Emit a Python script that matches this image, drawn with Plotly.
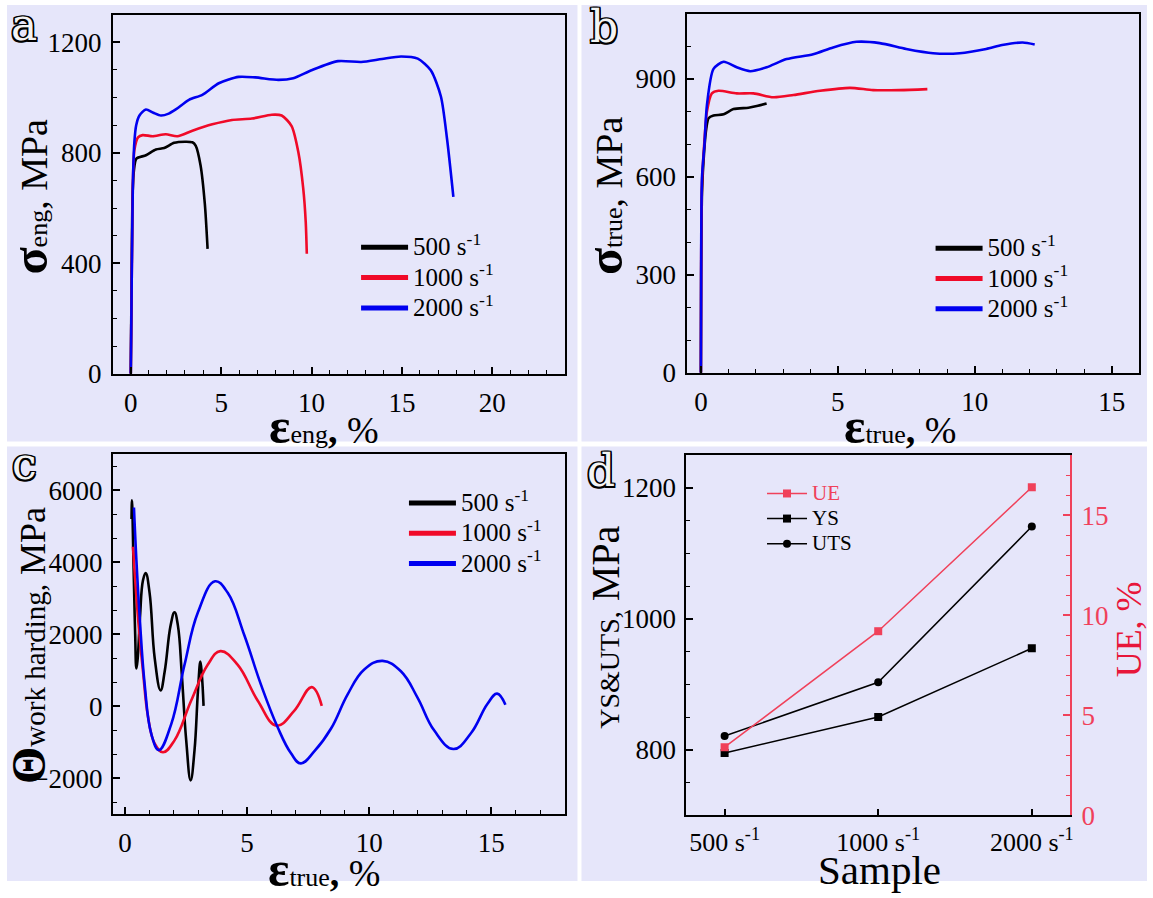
import plotly.graph_objects as go

W, H = 1153, 898
FONT = "Liberation Serif"
BG = "#E6E6FA"
BLUE = "#0000F0"
RED = "#F00A28"
BLACK = "#000000"
PINK = "#F0415A"
UE_RED = "#E8163A"

# ---------------- data ----------------
rates = ["500 s<sup>-1</sup>", "1000 s<sup>-1</sup>", "2000 s<sup>-1</sup>"]

# (a) engineering stress-strain
a500_x = [0.0, 0.02, 0.06, 0.10, 0.18, 0.31, 0.84, 1.39, 1.85, 2.40, 3.00, 3.41, 3.59, 3.86, 4.10, 4.25]
a500_y = [0, 150, 450, 650, 740, 779, 791, 812, 817, 836, 840, 838, 826, 755, 613, 452]
a1000_x = [0.0, 0.03, 0.07, 0.12, 0.20, 0.40, 0.66, 1.21, 1.94, 2.58, 3.41, 4.51, 5.60, 6.70, 7.80, 8.35, 8.90, 9.27, 9.54, 9.68, 9.74]
a1000_y = [0, 200, 450, 700, 810, 856, 864, 860, 867, 860, 880, 903, 919, 924, 938, 935, 897, 803, 672, 550, 434]
a2000_x = [0.0, 0.03, 0.07, 0.12, 0.20, 0.30, 0.48, 0.84, 1.25, 1.67, 2.10, 2.49, 3.22, 3.96, 4.87, 5.97, 6.89, 8.17, 8.99, 10.0, 11.47, 12.75, 13.9, 14.96, 15.88, 16.6, 17.16, 17.5, 17.85]
a2000_y = [0, 200, 450, 700, 840, 900, 935, 957, 945, 935, 942, 957, 992, 1010, 1052, 1075, 1073, 1064, 1070, 1099, 1132, 1129, 1140, 1149, 1141, 1099, 1004, 850, 640]

# (b) true stress-strain
b500_x = [0.0, 0.01, 0.04, 0.12, 0.20, 0.28, 0.46, 0.83, 1.19, 1.74, 2.04, 2.40]
b500_y = [0, 300, 550, 680, 750, 780, 788, 792, 808, 812, 817, 825]
b1000_x = [0.0, 0.01, 0.04, 0.12, 0.22, 0.40, 0.64, 1.31, 1.92, 2.65, 3.38, 4.35, 5.44, 6.29, 7.26, 8.27]
b1000_y = [0, 350, 580, 700, 800, 856, 864, 856, 856, 844, 851, 864, 873, 866, 866, 869]
b2000_x = [0.0, 0.01, 0.04, 0.13, 0.22, 0.46, 0.83, 1.31, 1.80, 2.40, 3.13, 4.10, 4.83, 5.68, 6.53, 7.50, 8.48, 9.45, 10.42, 11.0, 11.75, 12.19]
b2000_y = [0, 378, 599, 700, 820, 931, 953, 936, 924, 936, 961, 976, 997, 1014, 1010, 992, 979, 979, 992, 1004, 1012, 1006]

# (c) work hardening rate
c500_x = [0.27, 0.29, 0.35, 0.42, 0.47, 0.52, 0.62, 0.74, 0.85, 1.01, 1.22, 1.46, 1.63, 1.87, 2.03, 2.17, 2.33, 2.51, 2.69, 2.85, 2.99, 3.09, 3.15, 3.22]
c500_y = [5200, 5720, 4000, 2000, 1050, 1300, 2500, 3500, 3700, 3150, 1330, 440, 970, 2240, 2610, 2240, 870, -950, -2060, -1220, 420, 1240, 870, 10]
c1000_x = [0.33, 0.54, 0.74, 0.95, 1.22, 1.56, 2.03, 2.71, 3.39, 3.91, 4.62, 5.44, 6.21, 6.93, 7.65, 8.06]
c1000_y = [4430, 2420, 970, -310, -1040, -1280, -950, 150, 1150, 1530, 1150, 150, -540, -130, 530, 10]
c2000_x = [0.37, 0.47, 0.61, 0.81, 1.08, 1.39, 1.90, 2.44, 2.99, 3.69, 4.21, 4.89, 5.57, 6.25, 6.80, 7.20, 7.76, 8.44, 9.12, 9.80, 10.55, 11.30, 11.98, 12.66, 13.45, 14.16, 14.84, 15.24, 15.58]
c2000_y = [5520, 4060, 2420, 600, -770, -1220, -490, 1150, 2610, 3470, 3150, 1970, 600, -580, -1310, -1590, -1250, -620, 330, 1020, 1260, 970, 240, -670, -1190, -760, 60, 350, 40]

# (d) summary
YS = [795, 850, 955]
UTS = [821, 903, 1141]
UE = [3.4, 9.2, 16.4]

# ---------------- helpers ----------------
def X(px):
    return px / W

def Y(py):
    return 1 - py / H

def dom_x(l, r):
    return [l / W, r / W]

def dom_y(t, b):
    return [1 - b / H, 1 - t / H]

def axis(domain, anchor, rng, dtick, minor_dtick, color="black", mirror=True, **kw):
    d = dict(domain=domain, anchor=anchor, range=rng, dtick=dtick, tick0=0,
             showline=True, linecolor=color, linewidth=1.8, mirror=mirror,
             ticks="inside", ticklen=7, tickwidth=1.5, tickcolor=color,
             showgrid=False, zeroline=False, ticklabelstandoff=4,
             tickfont=dict(family=FONT, size=27, color=color))
    if minor_dtick:
        d["minor"] = dict(ticks="inside", ticklen=4, tickwidth=1.2, tickcolor=color,
                          dtick=minor_dtick, tick0=0, showgrid=False)
    d.update(kw)
    return d

fig = go.Figure()

curve_sets = [
    ("x", "y", "legend", 0.7, [(a500_x, a500_y), (a1000_x, a1000_y), (a2000_x, a2000_y)]),
    ("x2", "y2", "legend2", 0.7, [(b500_x, b500_y), (b1000_x, b1000_y), (b2000_x, b2000_y)]),
    ("x3", "y3", "legend3", 1.2, [(c500_x, c500_y), (c1000_x, c1000_y), (c2000_x, c2000_y)]),
]
colors = [BLACK, RED, BLUE]
for xa, ya, lg, sm, sets in curve_sets:
    for (xs, ys), col in zip(sets, colors):
        fig.add_trace(go.Scatter(x=xs, y=ys, mode="lines", xaxis=xa, yaxis=ya,
                                 line=dict(color=col, width=2.6, shape="spline", smoothing=sm),
                                 showlegend=False, hoverinfo="skip"))
    for col, nm in zip(colors, rates):
        fig.add_trace(go.Scatter(x=[None], y=[None], mode="lines", xaxis=xa, yaxis=ya,
                                 line=dict(color=col, width=5),
                                 name='<span style="font-size:25px">' + nm + '</span>', legend=lg))

# panel d
fig.add_trace(go.Scatter(x=rates, y=UE, mode="lines+markers", xaxis="x4", yaxis="y5",
                         line=dict(color=PINK, width=1.5),
                         marker=dict(symbol="square", size=8, color=PINK),
                         name='<span style="color:#F0415A;font-size:21px">UE</span>', legend="legend4"))
fig.add_trace(go.Scatter(x=rates, y=YS, mode="lines+markers", xaxis="x4", yaxis="y4",
                         line=dict(color=BLACK, width=1.5),
                         marker=dict(symbol="square", size=8, color=BLACK),
                         name='<span style="font-size:21px">YS</span>', legend="legend4"))
fig.add_trace(go.Scatter(x=rates, y=UTS, mode="lines+markers", xaxis="x4", yaxis="y4",
                         line=dict(color=BLACK, width=1.5),
                         marker=dict(symbol="circle", size=8, color=BLACK),
                         name='<span style="font-size:21px">UTS</span>', legend="legend4"))

# panel frames (pixels)
A = dict(l=113, r=566, t=15, b=380)
B = dict(l=689, r=1142, t=14, b=379)
C = dict(l=113, r=566, t=462, b=828)
D = dict(l=688, r=1073, t=463, b=829)

layout = dict(
    width=W, height=H, margin=dict(l=0, r=0, t=0, b=0), autosize=False,
    paper_bgcolor="white", plot_bgcolor=BG,
    font=dict(family=FONT, color="black"),
    xaxis=axis(dom_x(A["l"], A["r"]), "y", [-1, 24], 5, 1),
    yaxis=axis(dom_y(A["t"], A["b"]), "x", [0, 1300], 400, 100),
    xaxis2=axis(dom_x(B["l"], B["r"]), "y2", [-0.5, 16], 5, 1),
    yaxis2=axis(dom_y(B["t"], B["b"]), "x2", [0, 1100], 300, 100),
    xaxis3=axis(dom_x(C["l"], C["r"]), "y3", [-0.5, 18], 5, 1),
    yaxis3=axis(dom_y(C["t"], C["b"]), "x3", [-3000, 7000], 2000, 2000 / 3, ticklabelstandoff=3),
    xaxis4=dict(domain=dom_x(D["l"], D["r"]), anchor="y4", type="category", range=[-0.25, 2.25],
                showline=True, linecolor="black", linewidth=1.8, mirror=True,
                ticks="inside", ticklen=6, tickwidth=1.5, tickcolor="black",
                showgrid=False, zeroline=False, ticklabelstandoff=3,
                tickfont=dict(family=FONT, size=26, color="black")),
    yaxis4=axis(dom_y(D["t"], D["b"]), "x4", [700, 1250], 200, 50, mirror=False, ticklabelstandoff=3),
    yaxis5=axis(dom_y(D["t"], D["b"]), "x4", [0, 18], 5, 1, color=PINK, mirror=False,
                overlaying="y4", side="right"),
)

leg_common = dict(bgcolor="rgba(0,0,0,0)", borderwidth=0, xanchor="left", yanchor="top",
                  font=dict(family=FONT, size=21, color="black"), tracegroupgap=0, itemwidth=47)
layout["legend"] = dict(x=X(357), y=Y(231), **leg_common)
layout["legend2"] = dict(x=X(933), y=Y(232), **leg_common)
layout["legend3"] = dict(x=X(405), y=Y(491), **leg_common)
l4 = dict(leg_common)
l4["font"] = dict(family=FONT, size=17, color="black")
l4["itemwidth"] = 40
layout["legend4"] = dict(x=X(764), y=Y(484), **l4)

# lavender panel backgrounds
shapes = []
for (l, t, r, b) in [(7, 5, 579, 449), (583, 5, 1150, 449), (7, 454, 579, 896), (583, 454, 1150, 896)]:
    shapes.append(dict(type="rect", xref="paper", yref="paper", x0=X(l), x1=X(r), y0=Y(b), y1=Y(t),
                       fillcolor=BG, line=dict(width=0), layer="below"))
layout["shapes"] = shapes

outline = ("-1.5px -1.5px 0 #000, 1.5px -1.5px 0 #000, -1.5px 1.5px 0 #000, 1.5px 1.5px 0 #000, "
           "0 1.5px 0 #000, 0 -1.5px 0 #000, 1.5px 0 0 #000, -1.5px 0 0 #000")

def ann(text, px, py, size, angle=0, color="black", family=FONT, shadow=None):
    f = dict(family=family, size=size, color=color)
    if shadow:
        f["shadow"] = shadow
    return dict(text=text, x=X(px), y=Y(py), xref="paper", yref="paper", showarrow=False,
                xanchor="center", yanchor="middle", textangle=angle, font=f)

annotations = [
    ann("a", 24, 25, 44, family="DejaVu Serif", color="#F4F4F4", shadow=outline),
    ann("b", 606, 27, 44, family="DejaVu Serif", color="#F4F4F4", shadow=outline),
    ann("c", 25, 471, 44, family="DejaVu Serif", color="#F4F4F4", shadow=outline),
    ann("d", 603, 479, 44, family="DejaVu Serif", color="#F4F4F4", shadow=outline),
    # x titles
    ann('<span style="font-size:50px"><b>ε</b></span><span style="font-size:26px">eng</span><b>,</b> %', 325, 433, 38),
    ann('<span style="font-size:50px"><b>ε</b></span><span style="font-size:26px">true</span><b>,</b> %', 902, 433, 38),
    ann('<span style="font-size:50px"><b>ε</b></span><span style="font-size:26px">true</span><b>,</b> %', 325, 884, 38),
    ann("Sample", 882, 885, 41),
    # y titles
    ann('<span style="font-size:50px"><b>σ</b></span><span style="font-size:26px">eng</span>, MPa', 30, 200, 38, angle=-90),
    ann('<span style="font-size:50px"><b>σ</b></span><span style="font-size:26px">true</span>, MPa', 606, 199, 38, angle=-90),
    ann('<span style="font-size:48px"><b>Θ</b></span><span style="font-size:29px">work harding,</span> MPa', 28, 656, 36, angle=-90),
    ann('<span style="font-size:28px">YS&amp;UTS,</span> MPa', 607, 638, 40, angle=-90),
    ann("UE, %", 1132, 640, 36, angle=-90, color=UE_RED),
]
layout["annotations"] = annotations

fig.update_layout(**layout)
fig.write_html("out.html")
